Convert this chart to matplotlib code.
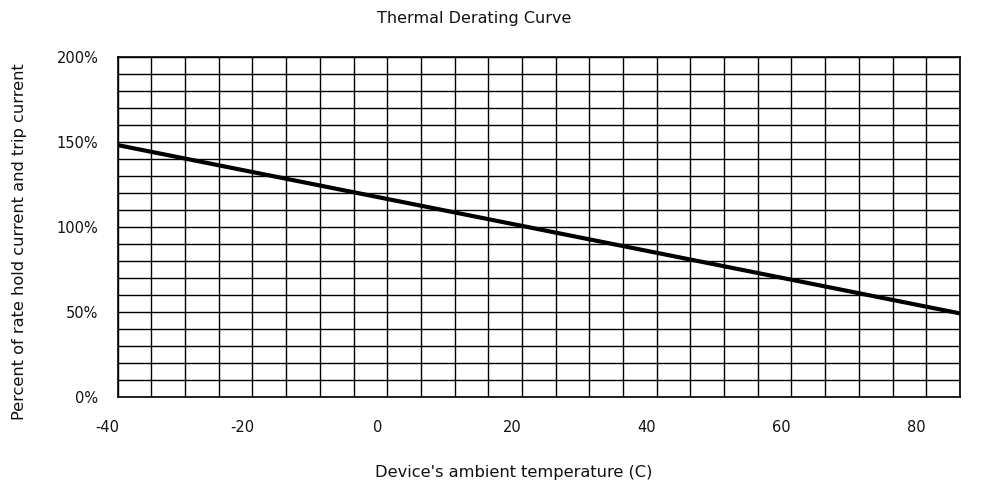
import matplotlib
matplotlib.use("Agg")
import matplotlib.pyplot as plt
from matplotlib.transforms import ScaledTranslation
import numpy as np

plt.rcParams['font.family'] = ['DejaVu Sans']

# 温度と定格比率
temps = [-40, 85]
percent = [148, 49]

x_ticks = [-40, -20, 0, 20, 40, 60, 80]
y_ticks = [0, 50, 100, 150, 200]
y_labels = ["0%", "50%", "100%", "150%", "200%"]

fig = plt.figure(figsize=(9.85, 4.83), dpi=100)
ax = fig.add_axes([0.1195, 0.1787, 0.855, 0.7039])

# グリッド (5度, 10%刻み)
for gx in np.arange(-40, 86, 5):
    ax.axvline(gx, color="black", lw=1.0, zorder=1)
for gy in np.arange(0, 201, 10):
    ax.axhline(gy, color="black", lw=1.0, zorder=1)

ax.plot(temps, percent, color="black", lw=3, solid_capstyle="butt", zorder=3)

ax.set_xlim(-40, 85)
ax.set_ylim(0, 200)
ax.set_xticks(x_ticks)
ax.set_xticklabels([str(t) for t in x_ticks])
ax.set_yticks(y_ticks)
ax.set_yticklabels(y_labels)
ax.tick_params(axis="both", length=0, labelsize=10.5, colors="#111111")
ax.tick_params(axis="x", pad=17)
ax.tick_params(axis="y", pad=14)
# 元図の目盛ラベルは少し左寄り
shift = ScaledTranslation(-0.1, 0, fig.dpi_scale_trans)
for lab in ax.get_xticklabels():
    lab.set_transform(lab.get_transform() + shift)
for s in ax.spines.values():
    s.set_linewidth(1.2)
    s.set_color("black")

fig.text(0.522, 1 - 472 / 483, "Device's ambient temperature (C)", ha="center", va="center", fontsize=11.7, color="#111111")
fig.text(20 / 985, 1 - 242 / 483, "Percent of rate hold current and trip current", ha="center", va="center",
         rotation=90, fontsize=11.7, color="#111111")

fig.text(474 / 985, 1 - 18 / 483, "Thermal Derating Curve", ha="center", va="center", fontsize=11.5, color="#111111")
# 上部で切れた見出しの一部
fig.text(0.265, 1.012, "g", ha="center", va="baseline", fontsize=20, fontweight="bold")

plt.savefig("out.png", dpi=100)
plt.close()
